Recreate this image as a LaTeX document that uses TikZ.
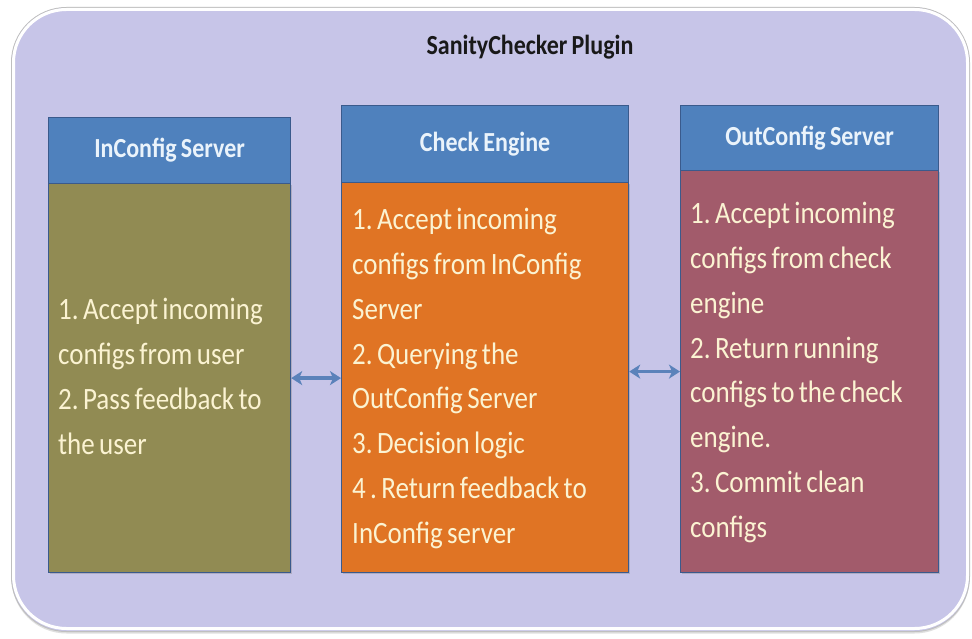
\documentclass[tikz,border=0pt]{standalone}
\usepackage{graphicx}
\usepackage{fontspec}
\setmainfont{Carlito}
\usetikzlibrary{arrows.meta,shadows}
\definecolor{lav}{HTML}{C7C5E8}
\definecolor{hblue}{HTML}{4F81BD}
\definecolor{hedge}{HTML}{3A5A8C}
\definecolor{olivebody}{HTML}{918B53}
\definecolor{orangebody}{HTML}{E07424}
\definecolor{rosebody}{HTML}{A25B6B}
\definecolor{cream}{HTML}{FBF3D2}
\definecolor{hdrtext}{HTML}{EAF3FB}
\definecolor{arrowblue}{HTML}{5B82BA}
\newcommand{\vstretch}[1]{\scalebox{1}[1.15]{#1}}
\newcommand{\bodylines}[1]{\vstretch{\fontsize{27}{39}\selectfont\frenchspacing\spaceskip=0.16em plus 0.05em minus 0.03em
  \begin{tabular}{@{}l@{}}#1\end{tabular}}}
\newcommand{\hdrtxt}[1]{\vstretch{\fontsize{24}{28}\selectfont\bfseries\spaceskip=0.18em #1}}
\tikzset{
  hdr/.style={draw=hedge, line width=1.2pt, fill=hblue, anchor=north west, inner sep=0pt,
    text=hdrtext},
  bodybox/.style={draw=hedge, line width=1.2pt, anchor=north west, inner sep=0pt,
    text=cream,
    drop shadow={shadow xshift=1.5pt, shadow yshift=-1.5pt, opacity=0.35}},
  txt/.style={anchor=west, inner sep=0pt, text=cream},
  link/.style={draw=arrowblue, line width=3.5pt, {Stealth[length=11pt,width=14pt,inset=3pt]}-{Stealth[length=11pt,width=14pt,inset=3pt]}}
}
\begin{document}
\begin{tikzpicture}[x=1pt,y=-1pt]
\useasboundingbox (0,0) rectangle (972,639);
\fill[white] (0,0) rectangle (972,639);
\node[draw=black!25, line width=1pt, fill=lav, rounded corners=55pt, anchor=north west,
  minimum width=958, minimum height=624, inner sep=0pt,
  drop shadow={shadow xshift=0pt, shadow yshift=-2pt, opacity=0.25}] (outer) at (11,7) {};
\draw[white, line width=3pt, rounded corners=53pt] (13.5,9.5) rectangle (967.5,628.5);
\node[text=black!90, inner sep=0pt] (title) at (530,47) {\hdrtxt{SanityChecker Plugin}};

\node[bodybox, fill=olivebody, minimum width=242, minimum height=389] (b1) at (48,183) {};
\node[hdr, minimum width=242, minimum height=66] (h1) at (48,117) {\hdrtxt{InConfig Server}};
\node[txt] (t1) at ([xshift=10pt]b1.west) {\bodylines{1. Accept incoming\\configs from user\\2. Pass feedback to\\the user}};

\node[bodybox, fill=orangebody, minimum width=287, minimum height=390] (b2) at (341,182) {};
\node[hdr, minimum width=287, minimum height=77] (h2) at (341,105) {\hdrtxt{Check Engine}};
\node[txt] (t2) at ([xshift=11pt]b2.west) {\bodylines{1. Accept incoming\\configs from InConfig\\Server\\2. Querying the\\OutConfig Server\\3. Decision logic\\4 . Return feedback to\\InConfig server}};

\node[bodybox, fill=rosebody, minimum width=258, minimum height=402] (b3) at (680,170) {};
\node[hdr, minimum width=258, minimum height=65] (h3) at (680,105) {\hdrtxt{OutConfig Server}};
\node[txt] (t3) at ([xshift=10pt]b3.west) {\bodylines{1. Accept incoming\\configs from check\\engine\\2. Return running\\configs to the check\\engine.\\3. Commit clean\\configs}};

\draw[link] (b1.east) -- (b1.east -| b2.west);
\draw[link] (b2.east |- b3.west) -- (b3.west);
\end{tikzpicture}
\end{document}
